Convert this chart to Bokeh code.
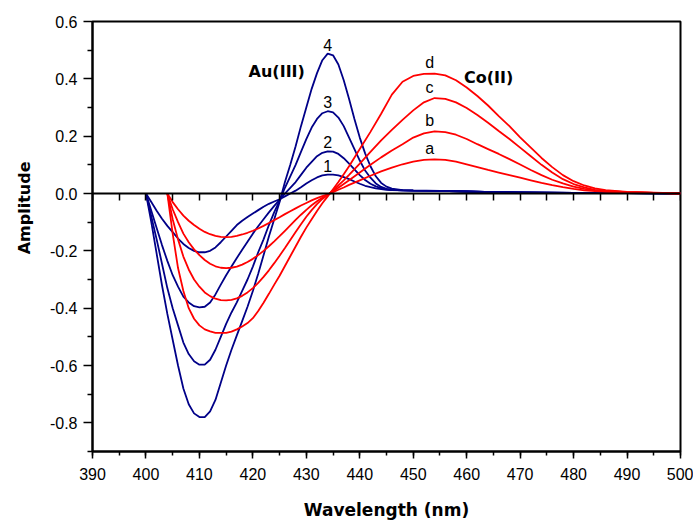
import math
from bokeh.plotting import figure
from bokeh.models import (LinearAxis, SingleIntervalTicker, FixedTicker, PrintfTickFormatter,
                          Label, Range1d, Title)
from bokeh.embed import file_html
from bokeh.resources import INLINE

# ---------------- data ----------------
au_wl = list(range(400, 447)) + [448, 450, 455, 460, 465, 470, 475, 480, 490, 500]

au_1 = [0, -0.03, -0.06, -0.088, -0.113, -0.135, -0.157, -0.176, -0.19, -0.2,
        -0.205, -0.205, -0.2, -0.188, -0.17, -0.15, -0.13, -0.11, -0.095, -0.082,
        -0.07, -0.058, -0.046, -0.036, -0.028, -0.02, -0.01, 0.0, 0.01, 0.022,
        0.035, 0.046, 0.056, 0.063, 0.066, 0.066, 0.063, 0.057, 0.05, 0.042,
        0.034, 0.027, 0.022, 0.018, 0.015, 0.013, 0.012,
        0.011, 0.010, 0.009, 0.007, 0.005, 0.004, 0.003, 0.002, 0.001, 0.0]
au_2 = [0, -0.06, -0.12, -0.18, -0.235, -0.285, -0.325, -0.36, -0.38, -0.393,
        -0.397, -0.395, -0.38, -0.352, -0.318, -0.285, -0.255, -0.225, -0.196, -0.168,
        -0.14, -0.114, -0.09, -0.066, -0.043, -0.022, 0.0, 0.02, 0.04, 0.065,
        0.09, 0.11, 0.13, 0.142, 0.147, 0.146, 0.138, 0.123, 0.104, 0.084,
        0.064, 0.047, 0.034, 0.025, 0.019, 0.015, 0.013,
        0.011, 0.010, 0.009, 0.007, 0.005, 0.004, 0.003, 0.002, 0.001, 0.0]
au_3 = [0, -0.08, -0.16, -0.245, -0.33, -0.40, -0.46, -0.52, -0.56, -0.585,
        -0.597, -0.597, -0.58, -0.545, -0.50, -0.455, -0.415, -0.38, -0.34, -0.30,
        -0.255, -0.205, -0.16, -0.11, -0.065, -0.025, 0.02, 0.06, 0.10, 0.145,
        0.19, 0.23, 0.26, 0.28, 0.287, 0.283, 0.265, 0.235, 0.195, 0.155,
        0.115, 0.08, 0.055, 0.035, 0.023, 0.016, 0.013,
        0.011, 0.010, 0.009, 0.007, 0.005, 0.004, 0.003, 0.002, 0.001, 0.0]
au_4 = [0, -0.10, -0.21, -0.32, -0.42, -0.51, -0.60, -0.68, -0.735, -0.767,
        -0.78, -0.78, -0.76, -0.72, -0.66, -0.60, -0.545, -0.495, -0.445, -0.395,
        -0.34, -0.28, -0.215, -0.15, -0.09, -0.03, 0.04, 0.10, 0.165, 0.235,
        0.30, 0.365, 0.42, 0.465, 0.488, 0.482, 0.45, 0.395, 0.33, 0.26,
        0.195, 0.14, 0.095, 0.06, 0.037, 0.024, 0.017,
        0.012, 0.011, 0.009, 0.007, 0.005, 0.004, 0.003, 0.002, 0.001, 0.0]

co_wl = list(range(404, 439)) + list(range(440, 487, 2)) + [490, 495, 500]

co_a = [0, -0.03, -0.055, -0.077, -0.095, -0.11, -0.123, -0.134, -0.142, -0.148,
        -0.151, -0.152, -0.151, -0.148, -0.143, -0.137, -0.13, -0.122, -0.113, -0.103,
        -0.093, -0.083, -0.072, -0.062, -0.052, -0.042, -0.033, -0.024, -0.016, -0.009,
        -0.003, 0.005, 0.013, 0.021, 0.03,
        0.046, 0.062, 0.077, 0.09, 0.102, 0.111, 0.117, 0.119, 0.117, 0.111,
        0.102, 0.092, 0.082, 0.073, 0.064, 0.055, 0.046, 0.037, 0.029, 0.022,
        0.016, 0.011, 0.008, 0.006,
        0.004, 0.002, 0.0]
co_b = [0, -0.055, -0.10, -0.14, -0.17, -0.195, -0.215, -0.232, -0.245, -0.254,
        -0.259, -0.26, -0.259, -0.255, -0.248, -0.239, -0.228, -0.215, -0.2, -0.184,
        -0.167, -0.149, -0.13, -0.111, -0.092, -0.074, -0.057, -0.041, -0.027, -0.015,
        -0.004, 0.008, 0.02, 0.033, 0.046,
        0.073, 0.1, 0.126, 0.15, 0.172, 0.195, 0.21, 0.217, 0.214, 0.205,
        0.19, 0.172, 0.155, 0.138, 0.12, 0.101, 0.082, 0.064, 0.048, 0.035,
        0.024, 0.016, 0.011, 0.008,
        0.005, 0.002, 0.0]
co_c = [0, -0.09, -0.16, -0.22, -0.265, -0.30, -0.325, -0.345, -0.358, -0.367,
        -0.372, -0.373, -0.371, -0.366, -0.357, -0.345, -0.33, -0.312, -0.291, -0.268,
        -0.243, -0.217, -0.19, -0.162, -0.134, -0.107, -0.081, -0.058, -0.037, -0.019,
        -0.005, 0.011, 0.028, 0.046, 0.065,
        0.104, 0.145, 0.185, 0.222, 0.257, 0.29, 0.318, 0.333, 0.33, 0.318,
        0.298, 0.274, 0.247, 0.218, 0.19, 0.16, 0.13, 0.1, 0.073, 0.05,
        0.033, 0.021, 0.013, 0.009,
        0.005, 0.002, 0.0]
co_d = [0, -0.14, -0.26, -0.34, -0.40, -0.437, -0.46, -0.474, -0.481, -0.486,
        -0.486, -0.486, -0.482, -0.474, -0.464, -0.452, -0.435, -0.41, -0.381, -0.35,
        -0.318, -0.287, -0.253, -0.219, -0.185, -0.151, -0.119, -0.09, -0.061, -0.034,
        -0.01, 0.015, 0.04, 0.067, 0.095,
        0.155, 0.215, 0.278, 0.345, 0.39, 0.41, 0.417, 0.418, 0.412, 0.395,
        0.37, 0.34, 0.307, 0.27, 0.235, 0.196, 0.16, 0.124, 0.092, 0.064,
        0.043, 0.028, 0.018, 0.012,
        0.006, 0.003, 0.0]

au_series = [au_1, au_2, au_3, au_4]
au_names = ["1", "2", "3", "4"]
co_series = [co_a, co_b, co_c, co_d]
co_names = ["a", "b", "c", "d"]

y_major_ticks = [-0.8, -0.6, -0.4, -0.2, 0.0, 0.2, 0.4, 0.6]
y_minor_ticks = [-0.9, -0.7, -0.5, -0.3, -0.1, 0.1, 0.3, 0.5]
x_ticks_interval = 10

# ---------------- figure ----------------
BLUE = "#000088"
RED = "#ff0000"
TICK_FONT = "Liberation Sans"
BOLD_FONT = "DejaVu Sans"

p = figure(width=693, height=522, output_backend="svg", toolbar_location=None,
           x_range=Range1d(390, 500), y_range=Range1d(-0.9, 0.6),
           x_axis_location=None, y_axis_location=None,
           min_border_left=92, min_border_right=13, min_border_top=21,
           min_border_bottom=70)
p.grid.visible = False
p.outline_line_color = "black"
p.outline_line_width = 2
p.background_fill_color = "white"
p.border_fill_color = "white"

def style_axis(ax, major_out, minor_out):
    ax.axis_line_width = 2
    ax.axis_line_color = "black"
    ax.major_tick_line_width = 1.5
    ax.minor_tick_line_width = 1.5
    ax.major_tick_out = major_out
    ax.major_tick_in = 0
    ax.minor_tick_out = minor_out
    ax.minor_tick_in = 0
    ax.major_label_text_font = TICK_FONT
    ax.major_label_text_font_size = "16px"
    ax.major_label_text_color = "black"

xaxis = LinearAxis(ticker=SingleIntervalTicker(interval=x_ticks_interval, num_minor_ticks=2),
                   formatter=PrintfTickFormatter(format="%d"))
style_axis(xaxis, 7, 4)
xaxis.major_label_standoff = 9
xaxis.axis_label = "Wavelength (nm)"
xaxis.axis_label_text_font = BOLD_FONT
xaxis.axis_label_text_font_style = "bold"
xaxis.axis_label_text_font_size = "17px"
xaxis.axis_label_text_color = "black"
xaxis.axis_label_standoff = 17
p.add_layout(xaxis, "below")

yaxis = LinearAxis(ticker=FixedTicker(ticks=y_major_ticks, minor_ticks=y_minor_ticks),
                   formatter=PrintfTickFormatter(format="%.1f"))
style_axis(yaxis, 9, 5)
yaxis.major_label_standoff = 6
p.add_layout(yaxis, "left")

# axis line through zero, ticks pointing down
zaxis = LinearAxis(fixed_location=0,
                   ticker=SingleIntervalTicker(interval=5, num_minor_ticks=0))
style_axis(zaxis, 0, 0)
zaxis.major_tick_in = 7
zaxis.major_label_text_color = None
zaxis.major_label_standoff = 0
p.add_layout(zaxis, "above")

for ys in au_series:
    p.line(au_wl, ys, line_color=BLUE, line_width=1.8)
for ys in co_series:
    p.line(co_wl, ys, line_color=RED, line_width=1.8)

# curve labels at the peaks
for wl, series, names, dx, dy in [(au_wl, au_series, au_names, 0, 9),
                                  (co_wl, co_series, co_names, -5, 11)]:
    for ys, name in zip(series, names):
        i = max(range(len(ys)), key=lambda k: ys[k])
        p.add_layout(Label(x=wl[i], y=ys[i], text=name, x_offset=dx, y_offset=dy,
                           text_align="center", text_baseline="alphabetic",
                           text_font=TICK_FONT, text_font_size="16px", text_color="black"))

p.add_layout(Label(x=419.2, y=0.427, text="Au(III)", text_font=BOLD_FONT,
                   text_font_style="bold", text_font_size="16px", text_color="black",
                   text_baseline="alphabetic", text_align="left"))
p.add_layout(Label(x=459.5, y=0.404, text="Co(II)", text_font=BOLD_FONT,
                   text_font_style="bold", text_font_size="16px", text_color="black",
                   text_baseline="alphabetic", text_align="left"))

# y axis title
ytitle = Title(text="Amplitude", align="right", offset=140, vertical_align="top",
               text_font=BOLD_FONT, text_font_style="bold", text_font_size="16px",
               text_color="black", standoff=21)
p.add_layout(ytitle, "left")

open("out.html", "w").write(file_html(p, INLINE))
